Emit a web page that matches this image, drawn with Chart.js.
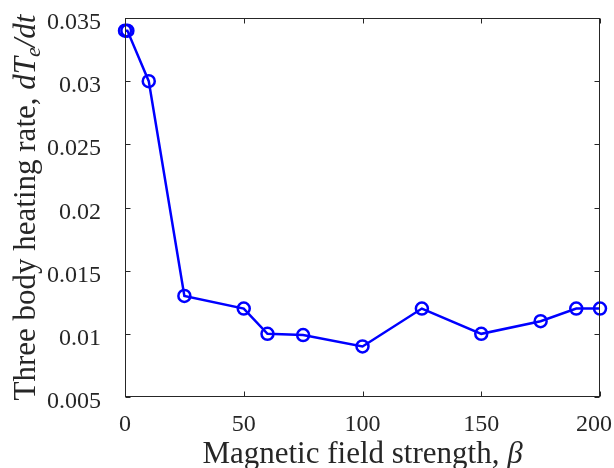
<!DOCTYPE html>
<html>
<head>
<meta charset="utf-8">
<script src="https://cdn.jsdelivr.net/npm/chart.js@4.4.1/dist/chart.umd.min.js"></script>
<style>
  html, body { margin: 0; padding: 0; background: #fff; }
  #wrap { width: 614px; height: 468px; }
</style>
</head>
<body>
<div id="wrap"><canvas id="myChart" width="614" height="468"></canvas></div>
<script>
var beta = [0, 1, 10, 25, 50, 60, 75, 100, 125, 150, 175, 190, 200];
var heatRate = [0.034, 0.034, 0.030, 0.013, 0.012, 0.010, 0.0099, 0.009, 0.012, 0.010, 0.011, 0.012, 0.012];
var xTicks = [0, 50, 100, 150, 200];
var yTicks = [0.005, 0.01, 0.015, 0.02, 0.025, 0.03, 0.035];
var yTickLabels = ['0.005', '0.01', '0.015', '0.02', '0.025', '0.03', '0.035'];

var serif = '"Liberation Serif", "DejaVu Serif", serif';
var axisColor = '#262626';

// matlab style box with inward ticks on all four sides
var boxPlugin = {
    id: 'boxPlugin',
    afterDraw: function(chart) {
        var ctx = chart.ctx;
        var a = chart.chartArea;
        var xs = chart.scales.x, ys = chart.scales.y;
        var l = Math.round(a.left) + 0.5, t = Math.round(a.top) + 0.5;
        var r = Math.round(a.right) - 0.5, b = Math.round(a.bottom) - 0.5;
        ctx.save();
        ctx.strokeStyle = axisColor;
        ctx.lineWidth = 1;
        ctx.strokeRect(l, t, r - l, b - t);
        xTicks.forEach(function(v) {
            var px = Math.round(xs.getPixelForValue(v)) + 0.5;
            ctx.beginPath();
            ctx.moveTo(px, b); ctx.lineTo(px, b - 5);
            ctx.moveTo(px, t); ctx.lineTo(px, t + 5);
            ctx.stroke();
        });
        yTicks.forEach(function(v) {
            var py = Math.round(ys.getPixelForValue(v)) + 0.5;
            ctx.beginPath();
            ctx.moveTo(l, py); ctx.lineTo(l + 5, py);
            ctx.moveTo(r, py); ctx.lineTo(r - 5, py);
            ctx.stroke();
        });
        ctx.restore();
    }
};

// tick labels and axis titles
var labelPlugin = {
    id: 'labelPlugin',
    beforeDatasetsDraw: function(chart) {
        var ctx = chart.ctx;
        var a = chart.chartArea;
        var xs = chart.scales.x, ys = chart.scales.y;
        ctx.save();
        ctx.fillStyle = axisColor;
        ctx.textBaseline = 'alphabetic';
        ctx.font = '24px ' + serif;
        // x tick labels, the last one kept inside the canvas
        ctx.textAlign = 'center';
        xTicks.forEach(function(v) {
            var px = xs.getPixelForValue(v);
            var w = ctx.measureText(String(v)).width;
            px = Math.min(px, chart.width - 2 - w / 2);
            ctx.fillText(String(v), px, a.bottom + 34);
        });
        ctx.textAlign = 'right';
        yTicks.forEach(function(v, i) {
            ctx.fillText(yTickLabels[i], a.left - 24, ys.getPixelForValue(v) + 11);
        });

        drawMixed(ctx, [['Magnetic field strength, ', false], ['β', true]], (a.left + a.right) / 2, 463);
        ctx.translate(35, (a.top + a.bottom) / 2);
        ctx.rotate(-Math.PI / 2);
        drawMixed(ctx, [['Three body heating rate, ', false], ['dT', true], ['e', true, true], ['/dt', true]], 0, 0);
        ctx.restore();
    }
};

function drawMixed(ctx, parts, cx, y) {
    var size = 31;
    var total = 0;
    parts.forEach(function(p) {
        ctx.font = (p[1] ? 'italic ' : '') + Math.round(p[2] ? size * 0.7 : size) + 'px ' + serif;
        p.w = ctx.measureText(p[0]).width;
        total += p.w;
    });
    var x = cx - total / 2;
    ctx.textAlign = 'left';
    parts.forEach(function(p) {
        ctx.font = (p[1] ? 'italic ' : '') + Math.round(p[2] ? size * 0.7 : size) + 'px ' + serif;
        ctx.fillText(p[0], x, p[2] ? y + 5 : y);
        x += p.w;
    });
}

var myChart = new Chart('myChart', {
    type: 'line',
    data: {
        datasets: [{
            label: 'heating rate',
            data: beta.map(function(b, i) { return { x: b, y: heatRate[i] }; }),
            borderColor: '#0000ff',
            backgroundColor: 'rgba(0,0,0,0)',
            borderWidth: 2.5,
            pointRadius: 6,
            pointBorderWidth: 2.5,
            pointBorderColor: '#0000ff',
            pointBackgroundColor: 'rgba(0,0,0,0)',
            tension: 0,
            clip: false
        }]
    },
    options: {
        responsive: false,
        animation: false,
        layout: { padding: { top: 18, right: 14, left: 0, bottom: 0 } },
        plugins: {
            legend: { display: false },
            tooltip: { enabled: false }
        },
        scales: {
            x: {
                type: 'linear',
                min: 0,
                max: 200,
                afterFit: function(s) { s.height = 71; s.paddingLeft = 0; s.paddingRight = 0; },
                grid: { display: false },
                border: { display: false },
                ticks: { display: false }
            },
            y: {
                type: 'linear',
                min: 0.005,
                max: 0.035,
                afterFit: function(s) { s.width = 125; s.paddingTop = 0; s.paddingBottom = 0; },
                grid: { display: false },
                border: { display: false },
                ticks: { display: false }
            }
        }
    },
    plugins: [labelPlugin, boxPlugin]
});
</script>
</body>
</html>
